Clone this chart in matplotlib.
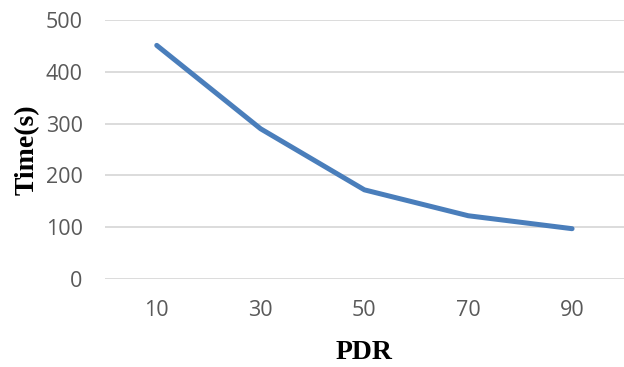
import matplotlib
matplotlib.use("Agg")
import matplotlib.pyplot as plt

# chart data
pdr = ["10", "30", "50", "70", "90"]
time_s = [451, 290, 172, 122, 97]

fig = plt.figure(figsize=(6.24, 3.67), dpi=100)
ax = fig.add_axes([0.168, 0.240, 0.832, 0.7055])

ax.plot(range(len(pdr)), time_s, color="#4A7EBB", linewidth=3.6,
        solid_capstyle="round", solid_joinstyle="round", zorder=3)

ax.set_xlim(-0.5, len(pdr) - 0.5)
ax.set_ylim(0, 500)
ax.set_yticks(range(0, 501, 100))
ax.set_xticks(range(len(pdr)))
ax.set_xticklabels(pdr)

# light horizontal grid, no frame
ax.grid(axis="y", color="#D9D9D9", linewidth=1.3)
ax.set_axisbelow(True)
for s in ax.spines.values():
    s.set_visible(False)
ax.tick_params(length=0, labelsize=15.5, labelcolor="#595959")
for lbl in ax.get_xticklabels() + ax.get_yticklabels():
    lbl.set_fontfamily("Open Sans")
ax.tick_params(axis="y", pad=16)
ax.tick_params(axis="x", pad=15)

ax.set_xlabel("PDR", fontfamily="Liberation Serif", fontweight="bold",
              fontsize=20, labelpad=14)
ax.set_ylabel("Time(s)", fontfamily="Liberation Serif", fontweight="bold",
              fontsize=20, labelpad=4)

fig.savefig("out.png", dpi=100)
